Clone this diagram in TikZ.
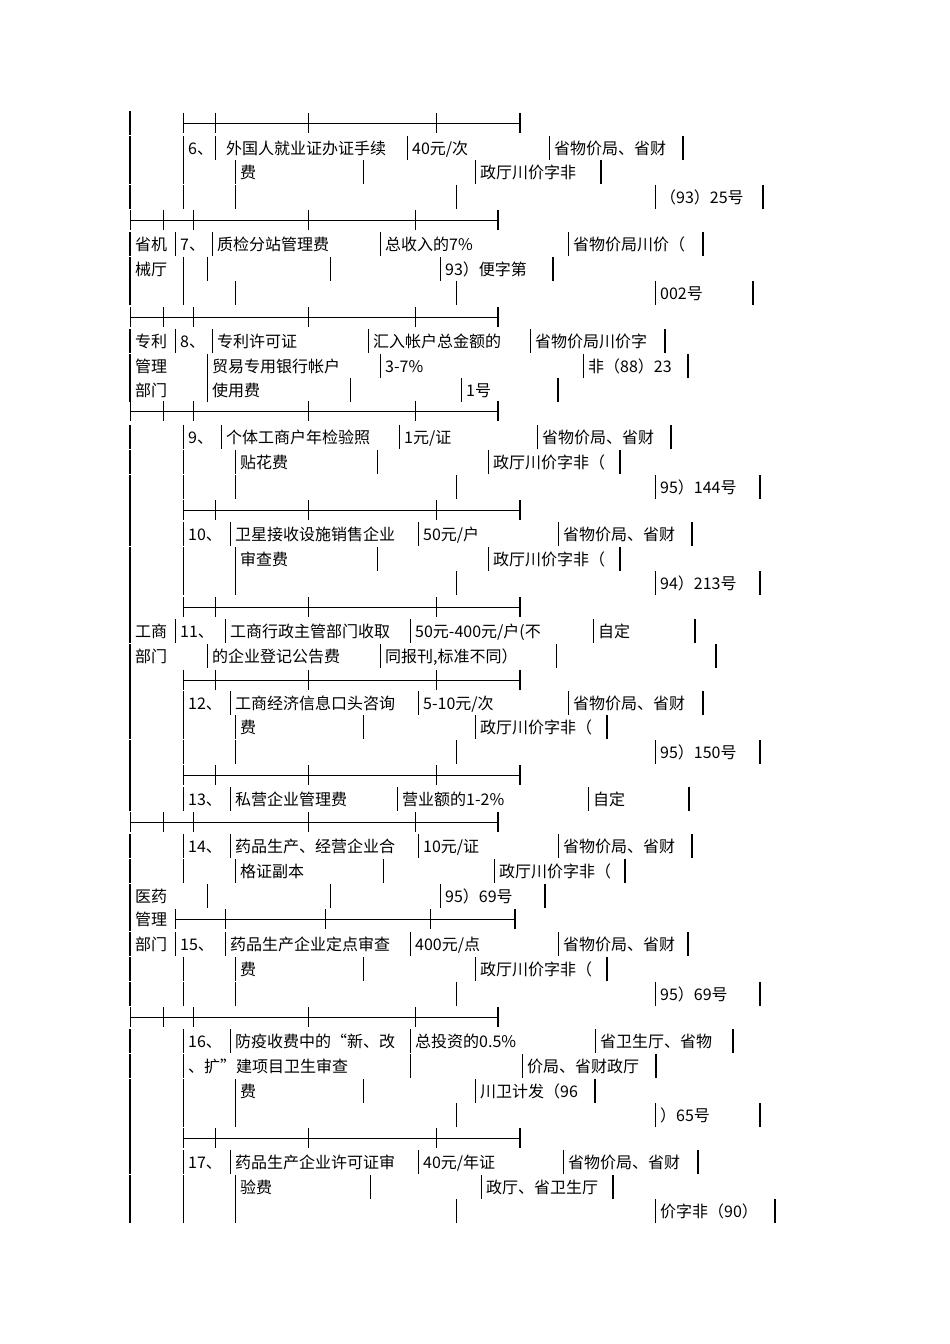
\documentclass[tikz,border=0pt]{standalone}
\usepackage{fontspec}
\setmainfont{Noto Sans CJK SC}
\newcommand\Tx[3]{\node[anchor=base west,inner sep=0pt,font=\fontsize{16}{18}\selectfont] at (#1pt+5pt,-#2pt-6pt) {#3};}
\newcommand\vb[2]{\draw[line width=1pt] (#1pt,-#2pt+12pt) -- (#1pt,-#2pt-12pt);}
\newcommand\Vb[2]{\draw[line width=2.6pt] (#1pt,-#2pt+12pt) -- (#1pt,-#2pt-12pt);}
\newcommand\Sep[4]{\draw[line width=1pt] (#2pt,-#1pt) -- (#3pt,-#1pt);
  \foreach \t in {#4}{\draw[line width=1pt] (\t pt,-#1pt+10pt) -- (\t pt,-#1pt-10pt);}
  \draw[line width=2.6pt] (#3pt,-#1pt+10pt) -- (#3pt,-#1pt-10pt);}
\begin{document}
\begin{tikzpicture}
\useasboundingbox (0,0) rectangle (950pt,-1344pt);
\foreach \y in {123,148,172,197,244,269,293,341,366,390,437,462,487,510,534,559,583,607,631,656,680,703,727,752,775,799,846,871,896,919,944,969,994,1041,1066,1091,1115,1138,1162,1187,1211}{\Vb{130}{\y}}
% 6
\Sep{123}{183}{520}{183,215,308,436}
\vb{183}{148}\Tx{183}{148}{6、}\vb{215}{148}\Tx{221}{148}{外国人就业证办证手续}\vb{407}{148}\Tx{407}{148}{40元/次}\vb{549}{148}\Tx{549}{148}{省物价局、省财}\Vb{683}{148}
\vb{183}{172}\vb{235}{172}\Tx{235}{172}{费}\vb{363}{172}\vb{475}{172}\Tx{475}{172}{政厅川价字非}\Vb{601}{172}
\vb{183}{197}\vb{235}{197}\vb{456}{197}\vb{655}{197}\Tx{655}{197}{（93）25号}\Vb{763}{197}
% 7
\Sep{220}{130}{498}{130,163,193,308,415}
\Tx{130}{244}{省机}\vb{175}{244}\Tx{175}{244}{7、}\vb{212}{244}\Tx{212}{244}{质检分站管理费}\vb{380}{244}\Tx{380}{244}{总收入的7\%}\vb{568}{244}\Tx{568}{244}{省物价局川价（}\Vb{703}{244}
\Tx{130}{269}{械厅}\vb{183}{269}\vb{207}{269}\vb{330}{269}\vb{440}{269}\Tx{440}{269}{93）便字第}\Vb{553}{269}
\vb{183}{293}\vb{235}{293}\vb{456}{293}\vb{655}{293}\Tx{655}{293}{002号}\Vb{753}{293}
% 8
\Sep{317}{130}{498}{130,163,193,308,415}
\Tx{130}{341}{专利}\vb{175}{341}\Tx{175}{341}{8、}\vb{212}{341}\Tx{212}{341}{专利许可证}\vb{368}{341}\Tx{368}{341}{汇入帐户总金额的}\vb{530}{341}\Tx{530}{341}{省物价局川价字}\Vb{665}{341}
\Tx{130}{366}{管理}\vb{207}{366}\Tx{207}{366}{贸易专用银行帐户}\vb{380}{366}\Tx{380}{366}{3-7\%}\vb{583}{366}\Tx{583}{366}{非（88）23}\Vb{688}{366}
\Tx{130}{390}{部门}\vb{207}{390}\Tx{207}{390}{使用费}\vb{350}{390}\vb{461}{390}\Tx{461}{390}{1号}\Vb{558}{390}
% 9
\Sep{411}{130}{498}{130,163,193,308,415}
\vb{183}{437}\Tx{183}{437}{9、}\vb{221}{437}\Tx{221}{437}{个体工商户年检验照}\vb{399}{437}\Tx{399}{437}{1元/证}\vb{537}{437}\Tx{537}{437}{省物价局、省财}\Vb{671}{437}
\vb{183}{462}\vb{235}{462}\Tx{235}{462}{贴花费}\vb{377}{462}\vb{488}{462}\Tx{488}{462}{政厅川价字非（}\Vb{620}{462}
\vb{183}{487}\vb{235}{487}\vb{456}{487}\vb{655}{487}\Tx{655}{487}{95）144号}\Vb{760}{487}
% 10
\Sep{510}{183}{520}{183,215,308,436}
\vb{183}{534}\Tx{183}{534}{10、}\vb{230}{534}\Tx{230}{534}{卫星接收设施销售企业}\vb{418}{534}\Tx{418}{534}{50元/户}\vb{558}{534}\Tx{558}{534}{省物价局、省财}\Vb{692}{534}
\vb{183}{559}\vb{235}{559}\Tx{235}{559}{审查费}\vb{377}{559}\vb{488}{559}\Tx{488}{559}{政厅川价字非（}\Vb{620}{559}
\vb{183}{583}\vb{235}{583}\vb{456}{583}\vb{655}{583}\Tx{655}{583}{94）213号}\Vb{760}{583}
% 11
\Sep{607}{183}{520}{183,215,308,436}
\Tx{130}{631}{工商}\vb{175}{631}\Tx{175}{631}{11、}\vb{225}{631}\Tx{225}{631}{工商行政主管部门收取}\vb{410}{631}\Tx{410}{631}{50元-400元/户(不}\vb{593}{631}\Tx{593}{631}{自定}\Vb{695}{631}
\Tx{130}{656}{部门}\vb{207}{656}\Tx{207}{656}{的企业登记公告费}\vb{380}{656}\Tx{380}{656}{同报刊,标准不同）}\vb{556}{656}\Vb{716}{656}
% 12
\Sep{680}{183}{520}{183,215,308,436}
\vb{183}{703}\Tx{183}{703}{12、}\vb{230}{703}\Tx{230}{703}{工商经济信息口头咨询}\vb{418}{703}\Tx{418}{703}{5-10元/次}\vb{568}{703}\Tx{568}{703}{省物价局、省财}\Vb{703}{703}
\vb{183}{727}\vb{235}{727}\Tx{235}{727}{费}\vb{363}{727}\vb{475}{727}\Tx{475}{727}{政厅川价字非（}\Vb{607}{727}
\vb{183}{752}\vb{235}{752}\vb{456}{752}\vb{655}{752}\Tx{655}{752}{95）150号}\Vb{760}{752}
% 13
\Sep{775}{183}{520}{183,215,308,436}
\vb{183}{799}\Tx{183}{799}{13、}\vb{230}{799}\Tx{230}{799}{私营企业管理费}\vb{397}{799}\Tx{397}{799}{营业额的1-2\%}\vb{588}{799}\Tx{588}{799}{自定}\Vb{689}{799}
% 14
\Sep{822}{130}{498}{130,163,193,308,415}
\vb{183}{846}\Tx{183}{846}{14、}\vb{230}{846}\Tx{230}{846}{药品生产、经营企业合}\vb{418}{846}\Tx{418}{846}{10元/证}\vb{558}{846}\Tx{558}{846}{省物价局、省财}\Vb{692}{846}
\vb{183}{871}\vb{235}{871}\Tx{235}{871}{格证副本}\vb{383}{871}\vb{494}{871}\Tx{494}{871}{政厅川价字非（}\Vb{625}{871}
\Tx{130}{896}{医药}\vb{207}{896}\vb{330}{896}\vb{440}{896}\Tx{440}{896}{95）69号}\Vb{545}{896}
% 15
\Tx{130}{919}{管理}\Sep{919}{175}{515}{175,225,325,430}
\Tx{130}{944}{部门}\vb{175}{944}\Tx{175}{944}{15、}\vb{225}{944}\Tx{225}{944}{药品生产企业定点审查}\vb{410}{944}\Tx{410}{944}{400元/点}\vb{558}{944}\Tx{558}{944}{省物价局、省财}\Vb{688}{944}
\vb{183}{969}\vb{235}{969}\Tx{235}{969}{费}\vb{363}{969}\vb{475}{969}\Tx{475}{969}{政厅川价字非（}\Vb{607}{969}
\vb{183}{994}\vb{235}{994}\vb{456}{994}\vb{655}{994}\Tx{655}{994}{95）69号}\Vb{760}{994}
% 16
\Sep{1017}{130}{498}{130,163,193,308,415}
\vb{183}{1041}\Tx{183}{1041}{16、}\vb{230}{1041}\Tx{230}{1041}{防疫收费中的“新、改}\vb{410}{1041}\Tx{410}{1041}{总投资的0.5\%}\vb{595}{1041}\Tx{595}{1041}{省卫生厅、省物}\Vb{733}{1041}
\vb{183}{1066}\Tx{183}{1066}{、扩”建项目卫生审查}\vb{410}{1066}\vb{522}{1066}\Tx{522}{1066}{价局、省财政厅}\Vb{656}{1066}
\vb{183}{1091}\vb{235}{1091}\Tx{235}{1091}{费}\vb{363}{1091}\vb{475}{1091}\Tx{475}{1091}{川卫计发（96}\Vb{595}{1091}
\vb{183}{1115}\vb{235}{1115}\vb{456}{1115}\vb{655}{1115}\Tx{655}{1115}{）65号}\Vb{760}{1115}
% 17
\Sep{1138}{183}{520}{183,215,308,436}
\vb{183}{1162}\Tx{183}{1162}{17、}\vb{230}{1162}\Tx{230}{1162}{药品生产企业许可证审}\vb{418}{1162}\Tx{418}{1162}{40元/年证}\vb{563}{1162}\Tx{563}{1162}{省物价局、省财}\Vb{698}{1162}
\vb{183}{1187}\vb{235}{1187}\Tx{235}{1187}{验费}\vb{370}{1187}\vb{481}{1187}\Tx{481}{1187}{政厅、省卫生厅}\Vb{613}{1187}
\vb{183}{1211}\vb{235}{1211}\vb{456}{1211}\vb{655}{1211}\Tx{655}{1211}{价字非（90）}\Vb{775}{1211}
\end{tikzpicture}
\end{document}
